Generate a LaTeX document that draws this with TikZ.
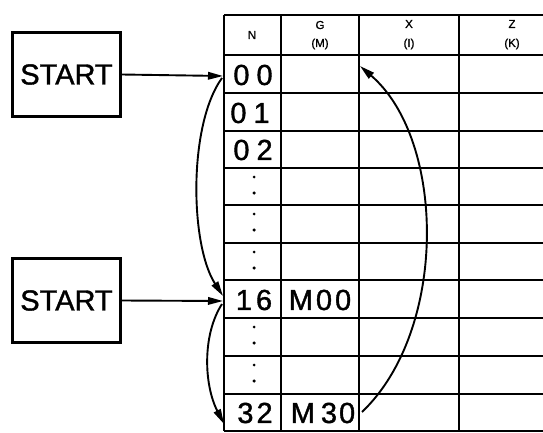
\documentclass[tikz,border=0pt]{standalone}
\usepackage{fontspec}
\setmainfont{Liberation Sans}[BoldFont=Liberation Sans,BoldFeatures={FakeBold=1.3}]
\usetikzlibrary{arrows.meta}
\begin{document}
\begin{tikzpicture}[x=1pt,y=-1pt,
  tableline/.style={line width=2.4pt},
  startbox/.style={draw,line width=2.2pt,minimum width=108pt,minimum height=84pt,inner sep=0pt,font=\fontsize{29}{29}\selectfont\bfseries},
  rowlbl/.style={inner sep=0pt,font=\fontsize{29}{29}\selectfont\bfseries},
  hdr/.style={inner sep=0pt,font=\fontsize{11.5}{11.5}\selectfont\bfseries},
  conn/.style={line width=1.9pt,-{Triangle[length=15pt,width=7.5pt]}},
  dotmark/.style={circle,fill,inner sep=0pt,minimum size=3.5pt}]
\useasboundingbox (0,0) rectangle (543,433);
\begin{scope}
\clip (0,0) rectangle (543,433);
% table lines
\foreach \y in {15,55,93,131,168,205,243,280,318,356,394,431}
  \draw[tableline] (224,\y) -- (560,\y);
\foreach \x in {224,281,359,459}
  \draw[tableline] (\x,15) -- (\x,431);
\end{scope}
% headers
\node[hdr] (hN) at (252,35) {N};
\node[hdr] (hG) at (320,25) {G};
\node[hdr] (hM) at (320,44) {(M)};
\node[hdr] (hX) at (409,24) {X};
\node[hdr] (hI) at (409,44) {(I)};
\node[hdr] (hZ) at (512,24) {Z};
\node[hdr] (hK) at (512,44) {(K)};
% row labels
\node[rowlbl] (r00) at (253,75) {0\kern7pt0};
\node[rowlbl] (r01) at (250,113) {0\kern7pt1};
\node[rowlbl] (r02) at (253,150) {0\kern7pt2};
\node[rowlbl] (r16) at (254,300) {1\kern4pt6};
\node[rowlbl] (r32) at (255,413) {3\kern3pt2};
\node[rowlbl] (m00) at (320,300) {M\kern3pt0\kern3pt0};
\node[rowlbl] (m30) at (323,413) {M\kern6pt3\kern2pt0};
% dots
\foreach \t in {168,205,243,318,356} {
  \node[dotmark,minimum size=3pt] (da\t) at (254,\t+9) {};
  \node[dotmark] (db\t) at (254,\t+25) {};
}
% start boxes
\node[startbox] (s1) at (66.5,74.5) {START};
\node[startbox] (s2) at (66.5,300.5) {START};
% connection points
\coordinate (in00) at (223,76);
\coordinate (out00) at (222,78);
\coordinate (in16) at (223,301);
\coordinate (top16) at (223,296);
\coordinate (out16) at (222,304);
\coordinate (in32) at (224,424);
\coordinate (m30r) at (362,412);
\coordinate (xtop) at (360,66);
% connectors
\draw[conn] (s1.east) -- (in00);
\draw[conn] (s2.east) -- (in16);
\draw[conn] (out00) .. controls (188,125) and (190,245) .. (top16);
\draw[conn] (out16) .. controls (202,335) and (204,385) .. (in32);
\draw[conn] (m30r) .. controls (448,330) and (446,140) .. (xtop);
\end{tikzpicture}
\end{document}
